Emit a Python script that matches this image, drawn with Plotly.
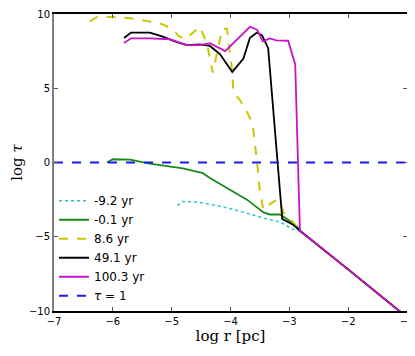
import plotly.graph_objects as go

# shared tail (all epochs converge outside r ~ 10^-2.8 pc)
tail_x = [-2.82, -2.0, -1.13, -1.0]
tail_y = [-4.6, -7.2, -10.0, -10.42]

x_m92 = [-4.9, -4.82, -4.57, -4.23, -3.95, -3.67, -3.38, -3.16, -2.94] + tail_x
y_m92 = [-2.9, -2.63, -2.66, -2.9, -3.16, -3.5, -3.8, -4.0, -4.5] + tail_y

x_m01 = [-6.1, -6.0, -5.71, -5.37, -4.81, -4.47, -4.35, -4.06, -3.72, -3.44, -3.33, -3.16, -3.04, -2.87] + tail_x
y_m01 = [0.0, 0.22, 0.2, -0.07, -0.4, -0.72, -1.05, -1.7, -2.5, -3.36, -3.5, -3.5, -3.8, -4.3] + tail_y

x_86 = [-6.39, -6.27, -6.05, -5.71, -5.37, -5.15, -4.98, -4.88, -4.77, -4.52, -4.4, -4.3,
        -4.2, -4.14, -4.06, -3.97, -3.95, -3.84, -3.72, -3.67, -3.62, -3.55, -3.5, -3.44,
        -3.33, -3.24, -3.16, -3.1, -2.96] + tail_x
y_86 = [9.5, 9.8, 9.8, 9.72, 9.5, 9.3, 8.97, 8.5, 8.3, 9.14, 8.0, 6.05,
        7.9, 9.0, 9.0, 6.05, 4.7, 4.2, 3.4, 3.0, 2.4, 0.1, -2.0, -3.2,
        -2.8, -2.57, -2.57, -3.36, -3.9] + tail_y

x_491 = [-5.81, -5.69, -5.37, -5.15, -4.91, -4.74, -4.52, -4.35, -4.18, -3.97, -3.78, -3.67,
         -3.55, -3.46, -3.36, -3.12, -2.93] + tail_x
y_491 = [8.38, 8.75, 8.75, 8.48, 8.1, 7.9, 7.96, 7.85, 7.3, 6.1, 7.0, 8.4,
         8.75, 8.55, 7.7, -3.8, -4.2] + tail_y

x_1003 = [-5.81, -5.69, -5.37, -5.03, -4.74, -4.52, -4.35, -4.09, -3.67, -3.55, -3.45,
          -3.33, -3.22, -3.02, -2.9, -2.83] + tail_x
y_1003 = [8.05, 8.36, 8.36, 8.3, 7.9, 7.9, 8.03, 7.5, 9.14, 8.95, 8.16,
          8.36, 8.23, 8.2, 6.6, -4.6] + tail_y

tau_x = [-7, -1]
tau_y = [0, 0]

series = [
    ("-9.2 yr", x_m92, y_m92, "#22c8c8", "dot", 1.5),
    ("-0.1 yr", x_m01, y_m01, "#1a8a1a", "solid", 1.8),
    ("8.6 yr", x_86, y_86, "#c8c800", "dash", 2),
    ("49.1 yr", x_491, y_491, "black", "solid", 1.8),
    ("100.3 yr", x_1003, y_1003, "#c814c8", "solid", 1.8),
    ("<i>τ</i> = 1", tau_x, tau_y, "#1a1aee", "dash", 2),
]

fig = go.Figure()
for name, xs, ys, col, dash, w in series:
    fig.add_trace(go.Scatter(x=xs, y=ys, mode="lines", name=name,
                             line=dict(color=col, dash=dash, width=w)))

tickfont = dict(family="DejaVu Sans", size=10, color="black")
fig.update_xaxes(range=[-7, -1], tickvals=[-7, -6, -5, -4, -3, -2, -1],
                 ticktext=["−7", "−6", "−5", "−4", "−3", "−2", "−1"],
                 ticks="inside", ticklen=4, tickcolor="#555", mirror="allticks",
                 showline=True, linecolor="black", linewidth=1.5,
                 showgrid=False, zeroline=False, tickfont=tickfont, automargin=False,
                 ticklabeloverflow="allow",
                 title=dict(text="log r [pc]", font=dict(family="DejaVu Serif", size=15),
                            standoff=4))
fig.update_yaxes(range=[-10, 10], tickvals=[-10, -5, 0, 5, 10],
                 ticktext=["−10", "−5", "0", "5", "10"],
                 ticks="inside", ticklen=4, tickcolor="#555", mirror="allticks",
                 showline=True, linecolor="#808080", linewidth=2,
                 showgrid=False, zeroline=False, tickfont=tickfont, automargin=False,
                 ticklabeloverflow="allow",
                 title=dict(text="log <i>τ</i>", font=dict(family="DejaVu Serif", size=15),
                            standoff=10))
# page body adds an 8px offset, so the figure is sized to fit the window
fig.update_layout(
    width=407, height=348,
    margin=dict(l=46, r=8, t=6, b=45),
    paper_bgcolor="white", plot_bgcolor="white",
    font=dict(family="DejaVu Sans", color="black"),
    legend=dict(x=0.0, y=0.42, xanchor="left", yanchor="top",
                bgcolor="rgba(0,0,0,0)", font=dict(size=12),
                itemwidth=30, tracegroupgap=0),
)

fig.write_html("out.html")
